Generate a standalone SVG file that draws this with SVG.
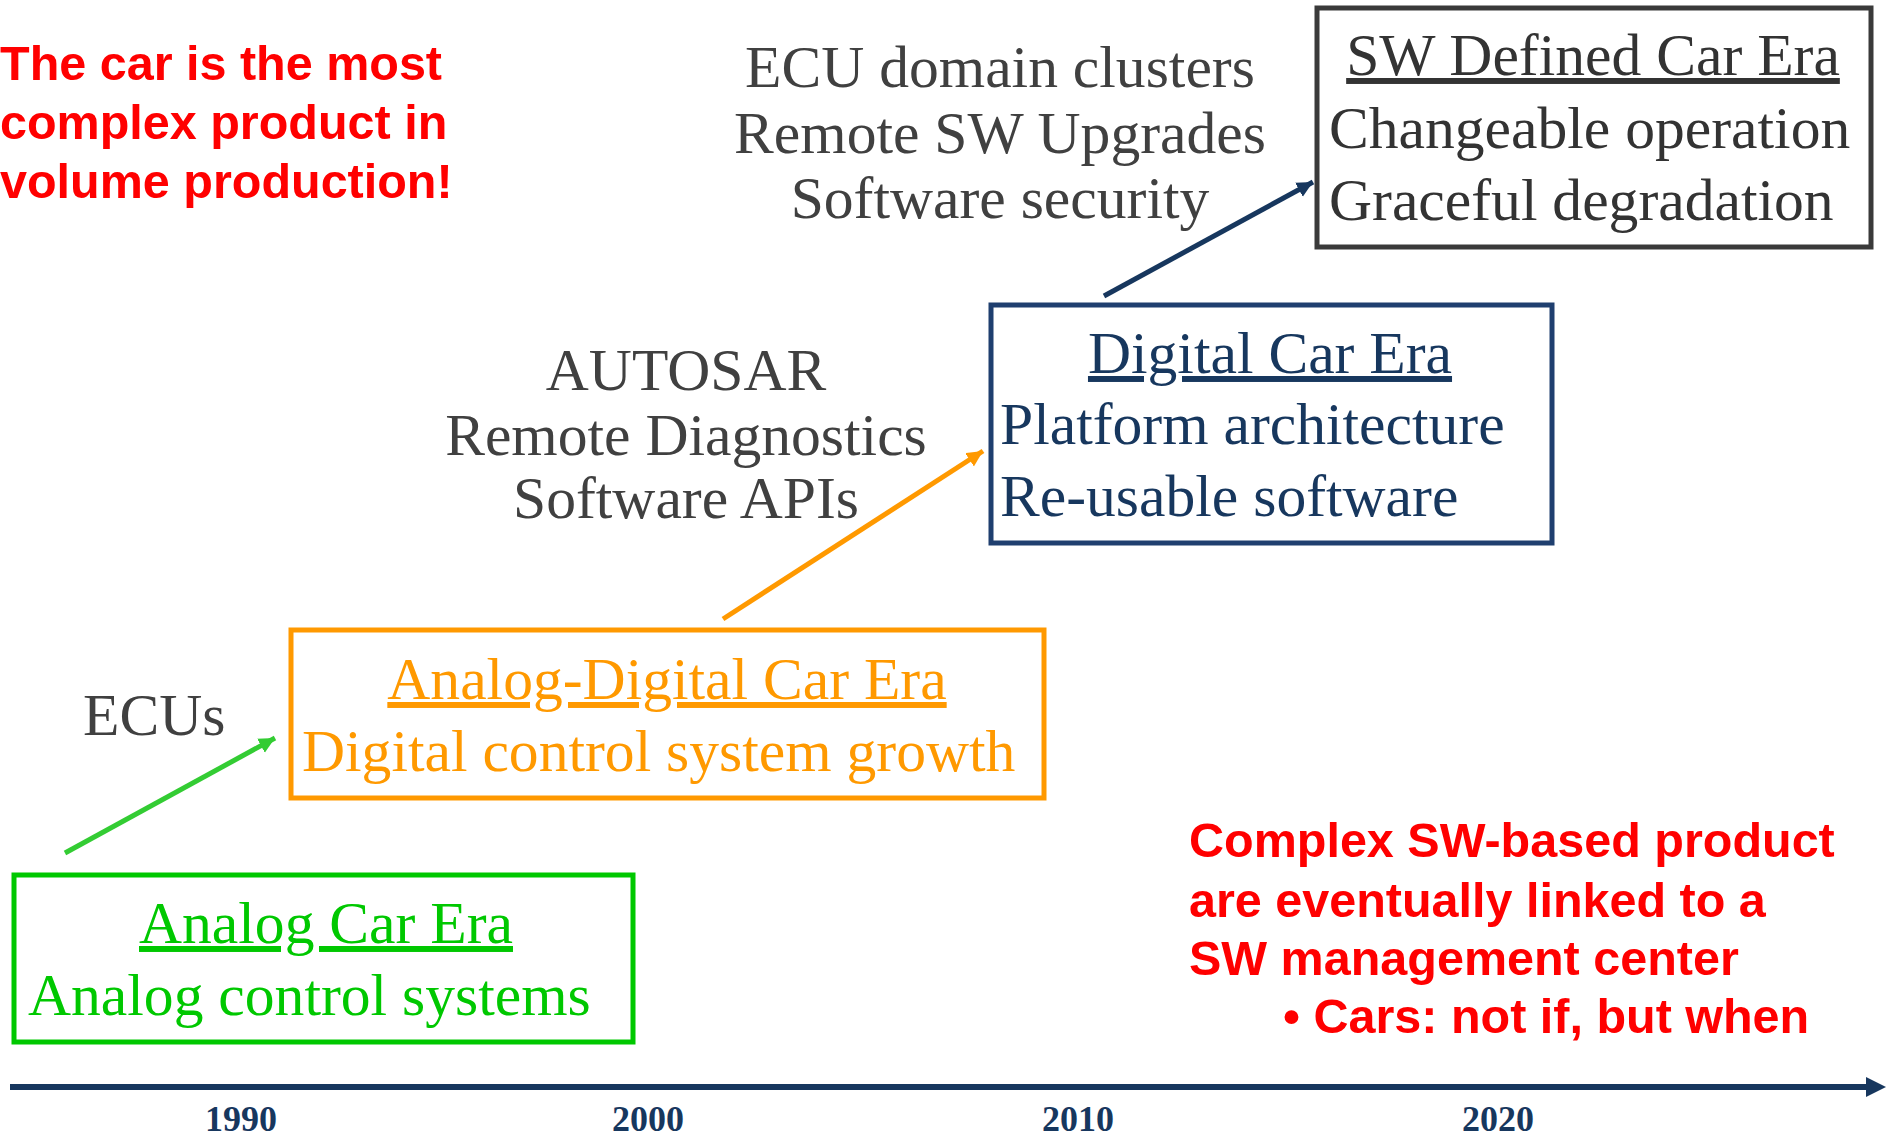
<svg xmlns="http://www.w3.org/2000/svg" width="1888" height="1141" viewBox="0 0 1888 1141">
<style>
.serif{font-family:"Liberation Serif","Times New Roman",serif;font-size:59.6px}
.note{font-family:"Liberation Sans",Arial,sans-serif;font-weight:bold;font-size:48.5px;fill:#FF0000}
.gray{fill:#404040}
.year{font-family:"Liberation Serif","Times New Roman",serif;font-weight:bold;font-size:36px;fill:#17375E}
.box{fill:none;stroke-width:5}
.ul{text-decoration:underline}
</style>
<defs>
<marker id="ahNavy" markerUnits="userSpaceOnUse" markerWidth="20" markerHeight="18" refX="16" refY="8" orient="auto"><path d="M0,0 L16,8 L0,16 Z" fill="#17375E"/></marker>
<marker id="ahOrange" markerUnits="userSpaceOnUse" markerWidth="20" markerHeight="18" refX="16" refY="8" orient="auto"><path d="M0,0 L16,8 L0,16 Z" fill="#FF9900"/></marker>
<marker id="ahGreen" markerUnits="userSpaceOnUse" markerWidth="20" markerHeight="18" refX="16" refY="8" orient="auto"><path d="M0,0 L16,8 L0,16 Z" fill="#33CC33"/></marker>
</defs>
<rect width="1888" height="1141" fill="#FFFFFF"/>

<g id="note-top">
<text class="note" x="0" y="80">The car is the most</text>
<text class="note" x="0" y="139">complex product in</text>
<text class="note" x="0" y="198">volume production!</text>
</g>

<g id="label-ecu-domain" class="serif gray" text-anchor="middle">
<text x="1000" y="87">ECU domain clusters</text>
<text x="1000" y="153">Remote SW Upgrades</text>
<text x="1000" y="218">Software security</text>
</g>

<g id="node-sw-defined">
<rect class="box" x="1317" y="8" width="554" height="239" stroke="#3A3A3A"/>
<text class="serif ul" x="1593" y="75" text-anchor="middle" fill="#333333">SW Defined Car Era</text>
<text class="serif" x="1329" y="148" fill="#333333">Changeable operation</text>
<text class="serif" x="1329" y="220" fill="#333333">Graceful degradation</text>
</g>

<g id="label-autosar" class="serif gray" text-anchor="middle">
<text x="686" y="390">AUTOSAR</text>
<text x="686" y="455">Remote Diagnostics</text>
<text x="686" y="518">Software APIs</text>
</g>

<g id="node-digital">
<rect class="box" x="991" y="305" width="561" height="238" stroke="#1F3F6F"/>
<text class="serif ul" x="1270" y="373" text-anchor="middle" fill="#17375E">Digital Car Era</text>
<text class="serif" x="1000" y="444" fill="#17375E">Platform architecture</text>
<text class="serif" x="1000" y="516" fill="#17375E">Re-usable software</text>
</g>

<g id="label-ecus">
<text class="serif gray" x="83" y="735">ECUs</text>
</g>

<g id="node-analog-digital">
<rect class="box" x="291" y="630" width="753" height="168" stroke="#FF9900"/>
<text class="serif ul" x="667" y="699" text-anchor="middle" fill="#FF9900">Analog-Digital Car Era</text>
<text class="serif" x="302" y="771" fill="#FF9900">Digital control system growth</text>
</g>

<g id="node-analog">
<rect class="box" x="14" y="875" width="619" height="167" stroke="#00C800"/>
<text class="serif ul" x="326" y="943" text-anchor="middle" fill="#00C800">Analog Car Era</text>
<text class="serif" x="28" y="1015" fill="#00C800">Analog control systems</text>
</g>

<g id="note-bottom">
<text class="note" x="1189" y="857">Complex SW-based product</text>
<text class="note" x="1189" y="917">are eventually linked to a</text>
<text class="note" x="1189" y="975">SW management center</text>
<text class="note" x="1283" y="1033">• Cars: not if, but when</text>
</g>

<g id="connectors" fill="none">
<line x1="65" y1="853" x2="275" y2="738" stroke="#33CC33" stroke-width="5" marker-end="url(#ahGreen)"/>
<line x1="723" y1="619" x2="983" y2="451" stroke="#FF9900" stroke-width="5" marker-end="url(#ahOrange)"/>
<line x1="1104" y1="296" x2="1313" y2="182" stroke="#17375E" stroke-width="5" marker-end="url(#ahNavy)"/>
</g>

<g id="timeline">
<line x1="10" y1="1087" x2="1868" y2="1087" stroke="#17375E" stroke-width="6"/>
<path d="M1866,1077 L1886,1087 L1866,1097 Z" fill="#17375E"/>
<text class="year" x="241" y="1131" text-anchor="middle">1990</text>
<text class="year" x="648" y="1131" text-anchor="middle">2000</text>
<text class="year" x="1078" y="1131" text-anchor="middle">2010</text>
<text class="year" x="1498" y="1131" text-anchor="middle">2020</text>
</g>
</svg>
